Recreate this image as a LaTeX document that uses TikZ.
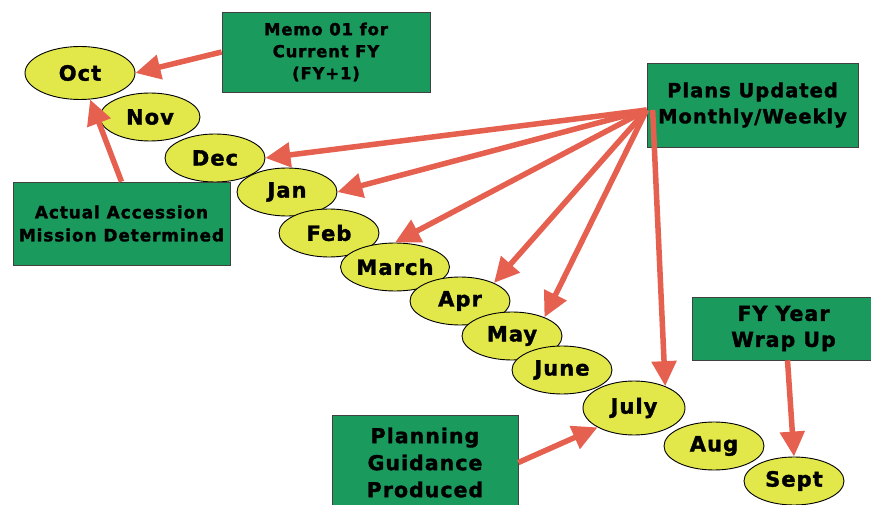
\documentclass[tikz,border=0pt]{standalone}
\usepackage{fontspec}
\usetikzlibrary{shapes.geometric,arrows.meta,backgrounds}
\newfontfamily\heavy{DejaVu Sans}[UprightFont={* Bold},LetterSpace=5,FakeBold=1.6]
\definecolor{boxgreen}{RGB}{27,154,94}
\definecolor{monthyellow}{RGB}{227,232,74}
\definecolor{arrowred}{RGB}{229,96,79}
\tikzset{
  month/.style={ellipse, draw=black, line width=0.9pt, fill=monthyellow,
    minimum width=100pt, minimum height=48pt, inner sep=0pt,
    font=\heavy\fontsize{21}{24}\selectfont},
  gbox/.style={rectangle, draw=black!75, line width=0.7pt, fill=boxgreen,
    align=center, inner sep=0pt},
  arr/.style={draw=arrowred, line width=5.5pt, -{Triangle[length=25pt,width=24pt]}},
  link/.style={draw=black, line width=3pt}
}
\begin{document}
\begin{tikzpicture}[x=1pt,y=-1pt]
\useasboundingbox[fill=white] (0,0) rectangle (871,505);
% months
\node[month, minimum width=110pt, minimum height=53pt] (oct) at (80,73) {Oct};
\node[month] (nov) at (150,117) {Nov};
\node[month] (dec) at (215,158) {Dec};
\node[month] (jan) at (287,192) {Jan};
\node[month] (feb) at (329,233) {Feb};
\node[month] (march) at (395,267) {March};
\node[month] (apr) at (460,301) {Apr};
\node[month] (may) at (512,336) {May};
\node[month] (june) at (562,370) {June};
\node[month, minimum width=102pt, minimum height=54pt] (july) at (634,408) {July};
\node[month] (aug) at (714,446) {Aug};
\node[month] (sept) at (794,481) {Sept};
\begin{pgfonlayer}{background}
\draw[link] (oct.center) -- (nov.center) -- (dec.center) -- (jan.center) -- (feb.center)
  -- (march.center) -- (apr.center) -- (may.center) -- (june.center) -- (july.center)
  -- (aug.center) -- (sept.center);
\end{pgfonlayer}
% boxes
\node[gbox, minimum width=208pt, minimum height=80pt,
  font=\heavy\fontsize{16.5}{22}\selectfont] (memo) at (326,52) {Memo 01 for\\Current FY\\(FY+1)};
\node[gbox, minimum width=217pt, minimum height=83pt,
  font=\heavy\fontsize{17}{23}\selectfont] (actual) at (121.5,223.5) {Actual Accession\\Mission Determined};
\node[gbox, minimum width=211pt, minimum height=84pt,
  font=\heavy\fontsize{19.5}{26}\selectfont] (plans) at (752.5,105) {Plans Updated\\Monthly/Weekly};
\node[gbox, minimum width=183pt, minimum height=63pt,
  font=\heavy\fontsize{20.5}{26}\selectfont] (wrap) at (783.5,328.5) {FY Year\\Wrap Up};
\node[gbox, minimum width=186pt, minimum height=95pt,
  font=\heavy\fontsize{20.5}{27}\selectfont] (plan) at (425,462.5) {Planning\\Guidance\\Produced};
% arrows
\coordinate (ps) at ([yshift=-5pt]plans.west);
\draw[arr] (memo.west) -- (oct.east);
\draw[arr] (actual.north) -- (oct);
\draw[arr] (ps) -- (dec.east);
\draw[arr] (ps) -- (jan.east);
\draw[arr] (ps) -- (march.north);
\draw[arr] (ps) -- (apr.28);
\draw[arr] (ps) -- (may.30);
\draw[arr] ([xshift=6pt]ps) -- (july.35);
\draw[arr] ([xshift=4pt]wrap.south) -- (sept.north);
\draw[arr] (plan.east) -- (july.208);
\end{tikzpicture}
\end{document}
